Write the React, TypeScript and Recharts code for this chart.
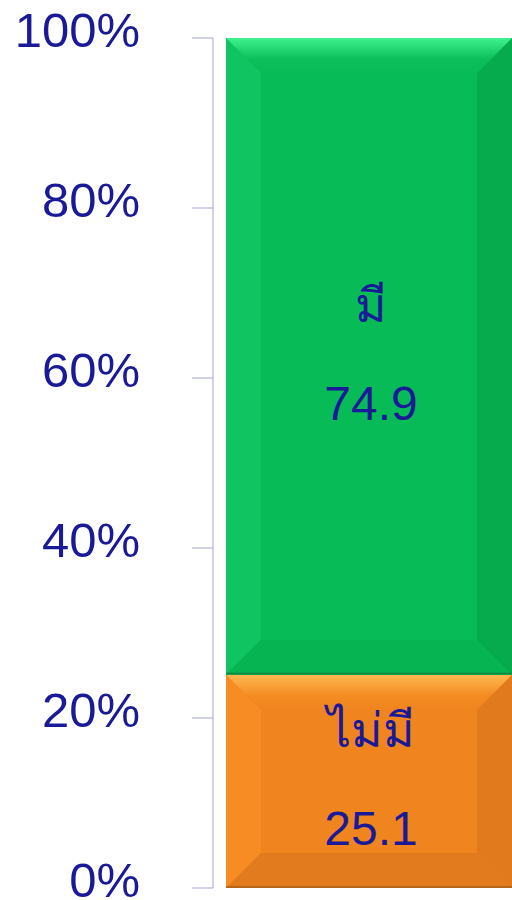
import React from 'react';
import { BarChart, Bar, XAxis, YAxis, LabelList } from 'recharts';

const categories = ['รวม'];
const seriesNames = ['ไม่มี', 'มี'];
const noValues = [25.1];
const yesValues = [74.9];
const yTicks = [0, 20, 40, 60, 80, 100];

const data = categories.map((c, i) => ({ cat: c, no: noValues[i], yes: yesValues[i] }));

const TEXT = '#1a1a98';
const AXIS = '#a3a3cf';
const FONT = '"Liberation Sans", "DejaVu Sans", sans-serif';

type Pal = { id: string; base: string; t1: string; t2: string; left: string; right: string; bottom: string; edge: string };
const GREEN: Pal = { id: 'g', base: '#07bb57', t1: '#40f28d', t2: '#0dbf5b', left: '#0fc461', right: '#05ab4c', bottom: '#06b452', edge: '#138a44' };
const ORANGE: Pal = { id: 'o', base: '#f0851f', t1: '#ffb951', t2: '#f38b22', left: '#f78c24', right: '#e07a1c', bottom: '#e27b1d', edge: '#b8651a' };

const Bevel = (props: any) => {
  const { x, y, width: w, height: h, pal } = props;
  const p: Pal = pal;
  const b = Math.min(35, h / 2, w / 2);
  return (
    <g>
      <defs>
        <linearGradient id={'top' + p.id} x1="0" y1="0" x2="0" y2="1">
          <stop offset="0" stopColor={p.t1} />
          <stop offset="0.6" stopColor={p.t2} />
          <stop offset="1" stopColor={p.base} />
        </linearGradient>
      </defs>
      <rect x={x} y={y} width={w} height={h} fill={p.base} />
      <polygon points={`${x},${y} ${x + b},${y + b} ${x + b},${y + h - b} ${x},${y + h}`} fill={p.left} />
      <polygon points={`${x + w},${y} ${x + w - b},${y + b} ${x + w - b},${y + h - b} ${x + w},${y + h}`} fill={p.right} />
      <polygon points={`${x},${y} ${x + w},${y} ${x + w - b},${y + b} ${x + b},${y + b}`} fill={`url(#top${p.id})`} />
      <polygon points={`${x},${y + h} ${x + w},${y + h} ${x + w - b},${y + h - b} ${x + b},${y + h - b}`} fill={p.bottom} />
      <rect x={x} y={y + h - 2} width={w} height={2} fill={p.edge} />
    </g>
  );
};

const TwoLine = (props: any) => {
  const { x, y, width, height, value, name } = props;
  const cx = x + width / 2 + 2;
  const cy = y + height / 2;
  return (
    <g>
      <text x={cx} y={cy - 34} textAnchor="middle" fill={TEXT} fontSize={48} fontFamily={FONT}>{name}</text>
      <text x={cx} y={cy + 64} textAnchor="middle" fill={TEXT} fontSize={48} fontFamily={FONT}>{value}</text>
    </g>
  );
};

const Tick = (props: any) => {
  const { x, y, payload } = props;
  return (
    <text x={x} y={y + 9} textAnchor="end" fill={TEXT} fontSize={49} fontFamily={FONT}>{payload.value + '%'}</text>
  );
};

export default function App() {
  return (
    <div style={{ position: 'absolute', left: 0, top: 0, width: 512, height: 900, overflow: 'hidden', background: '#fff' }}>
      <BarChart width={525} height={900} data={data} margin={{ top: 38, right: 0, bottom: 12, left: 0 }} barCategoryGap={13}>
        <XAxis dataKey="cat" hide />
        <YAxis
          domain={[0, 100]}
          ticks={yTicks}
          width={213}
          tickSize={21}
          tickMargin={52}
          axisLine={{ stroke: AXIS }}
          tickLine={{ stroke: AXIS }}
          tick={<Tick />}
          interval={0}
        />
        <Bar dataKey="no" stackId="s" isAnimationActive={false} shape={(p: any) => <Bevel {...p} pal={ORANGE} />}>
          <LabelList dataKey="no" content={(p: any) => <TwoLine {...p} name={seriesNames[0]} />} />
        </Bar>
        <Bar dataKey="yes" stackId="s" isAnimationActive={false} shape={(p: any) => <Bevel {...p} pal={GREEN} />}>
          <LabelList dataKey="yes" content={(p: any) => <TwoLine {...p} name={seriesNames[1]} />} />
        </Bar>
      </BarChart>
    </div>
  );
}
